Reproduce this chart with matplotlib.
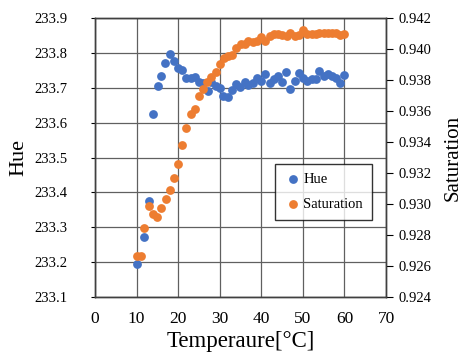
import matplotlib
matplotlib.use("Agg")
import matplotlib.pyplot as plt

# temperature / hue readings
hue_temp = [10.0, 11.9, 13.0, 13.9, 15.1, 15.9, 16.9, 18.0, 19.0, 20.0,
            21.0, 21.9, 23.0, 24.0, 25.0, 26.0, 27.1, 28.0, 29.0, 30.0,
            30.9, 31.9, 32.9, 34.0, 34.9, 36.0, 36.9, 38.0, 39.0, 40.0,
            41.0, 42.1, 43.0, 44.1, 45.0, 46.0, 47.0, 48.0, 49.0, 50.1,
            51.0, 52.1, 53.1, 54.0, 55.0, 56.0, 57.0, 58.0, 59.0, 59.9]
hue = [233.195, 233.272, 233.376, 233.626, 233.706, 233.734, 233.772, 233.797, 233.778, 233.758,
       233.751, 233.730, 233.730, 233.732, 233.718, 233.713, 233.692, 233.718, 233.705, 233.701,
       233.677, 233.675, 233.694, 233.711, 233.702, 233.718, 233.708, 233.713, 233.730, 233.721,
       233.740, 233.715, 233.725, 233.734, 233.718, 233.747, 233.697, 233.721, 233.742, 233.728,
       233.721, 233.725, 233.725, 233.750, 233.734, 233.740, 233.734, 233.728, 233.713, 233.737]

sat_temp = [10.0, 11.0, 11.9, 13.0, 13.9, 15.0, 15.9, 17.0, 18.0, 19.0,
            20.0, 21.0, 22.0, 23.0, 24.0, 25.0, 26.0, 27.0, 28.0, 29.0,
            30.0, 31.0, 32.0, 33.0, 34.0, 35.0, 36.0, 36.9, 38.0, 39.0,
            40.0, 41.0, 42.1, 43.0, 44.1, 45.0, 46.1, 47.0, 48.0, 49.0,
            50.1, 51.0, 52.1, 53.1, 54.0, 55.0, 56.0, 57.0, 58.0, 59.0, 59.9]
saturation = [0.92668, 0.92663, 0.92846, 0.92986, 0.92937, 0.92917, 0.92978, 0.93032, 0.93088, 0.93167,
              0.93258, 0.93381, 0.93489, 0.93579, 0.93614, 0.93698, 0.93741, 0.93790, 0.93822, 0.93855,
              0.93903, 0.93941, 0.93956, 0.93961, 0.94006, 0.94034, 0.94034, 0.94055, 0.94049, 0.94055,
              0.94077, 0.94055, 0.94088, 0.94097, 0.94097, 0.94092, 0.94088, 0.94107, 0.94086, 0.94092,
              0.94124, 0.94098, 0.94098, 0.94098, 0.94103, 0.94107, 0.94107, 0.94103, 0.94103, 0.94092, 0.94097]

hue_ticks = [233.1, 233.2, 233.3, 233.4, 233.5, 233.6, 233.7, 233.8, 233.9]
sat_ticks = [0.924, 0.926, 0.928, 0.930, 0.932, 0.934, 0.936, 0.938, 0.940, 0.942]
x_ticks = [0, 10, 20, 30, 40, 50, 60, 70]

plt.rcParams['font.family'] = ['Liberation Serif', 'DejaVu Serif']

fig = plt.figure(figsize=(4.72, 3.56), dpi=100)
ax = fig.add_axes([0.2013, 0.1657, 0.6165, 0.7829])
ax2 = ax.twinx()

p1 = ax.scatter(hue_temp, hue, s=40, color='#4472C4', label='Hue', zorder=3, linewidths=0)
p2 = ax2.scatter(sat_temp, saturation, s=40, color='#ED7D31', label='Saturation', zorder=3, linewidths=0)

ax.set_xlim(0, 70)
ax.set_ylim(233.1, 233.9)
ax2.set_ylim(0.924, 0.942)
ax.set_xticks(x_ticks)
ax.set_yticks(hue_ticks)
ax.set_yticklabels([f"{v:.1f}" for v in hue_ticks])
ax2.set_yticks(sat_ticks)
ax2.set_yticklabels([f"{v:.3f}" for v in sat_ticks])

ax.grid(True, color='#606060', linewidth=0.9)
ax.set_axisbelow(True)
for sp in list(ax.spines.values()) + list(ax2.spines.values()):
    sp.set_color('#404040')
    sp.set_linewidth(1.0)

ax.tick_params(axis='x', length=0, labelsize=12.5, pad=10)
ax.tick_params(axis='y', length=3, labelsize=10.5, pad=17)
ax2.tick_params(axis='y', length=5, labelsize=10.5, pad=4)

ax.set_xlabel("Temperaure[°C]", fontsize=16.5, labelpad=3)
ax.set_ylabel("Hue", fontsize=16, labelpad=4)
ax2.set_ylabel("Saturation", fontsize=15, labelpad=9)

leg = ax2.legend([p1, p2], ['Hue', 'Saturation'], loc='upper left',
                 bbox_to_anchor=(0.595, 0.505), fontsize=10.5, frameon=True,
                 fancybox=False, edgecolor='black', handletextpad=0.1,
                 handlelength=1.2, borderpad=0.6, labelspacing=0.85, markerscale=1.0)
leg.get_frame().set_linewidth(1.0)

fig.savefig("out.png", dpi=100)
